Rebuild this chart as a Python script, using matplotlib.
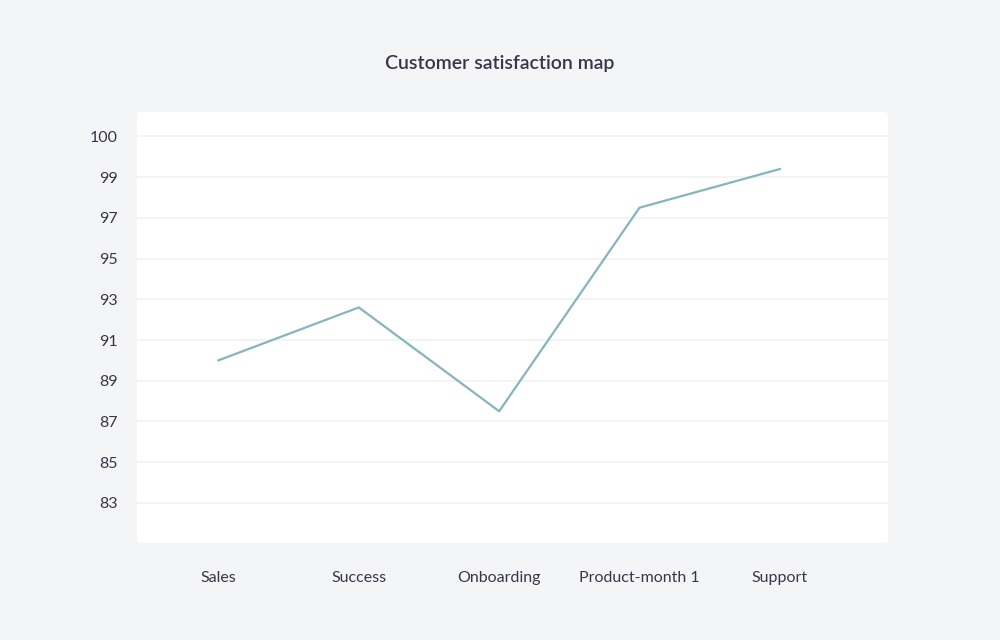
"""Customer satisfaction line chart."""

import matplotlib
matplotlib.use("Agg")
import matplotlib.pyplot as plt
from matplotlib.patches import FancyBboxPatch

categories = ["Sales", "Success", "Onboarding", "Product-month 1", "Support"]
satisfaction = [90.0, 92.6, 87.5, 97.5, 99.4]
tick_values = [83, 85, 87, 89, 91, 93, 95, 97, 99, 101]
tick_labels = ["83", "85", "87", "89", "91", "93", "95", "97", "99", "100"]

BG = "#f4f5f7"
TEXT = "#3b3549"
LINE = "#85b5be"
GRID = "#f1f2f5"

plt.rcParams["font.family"] = ["Lato", "DejaVu Sans"]

figure = plt.figure(figsize=(10, 6.4), dpi=100, facecolor=BG)
axis = figure.add_axes([0.137, 0.1516, 0.751, 0.6734])
axis.patch.set_visible(False)

panel = FancyBboxPatch(
    (0, 0), 1, 1, boxstyle="round,pad=0,rounding_size=0.006",
    transform=axis.transAxes, facecolor="white", edgecolor="none", zorder=0,
)
axis.add_patch(panel)

x_pos = list(range(len(categories)))
axis.plot(x_pos, satisfaction, color=LINE, linewidth=1.6, zorder=3)

axis.set_xlim(-0.58, 4.77)
axis.set_ylim(81.03, 102.2)
axis.set_xticks(x_pos, categories)
axis.set_yticks(tick_values, tick_labels)
axis.grid(axis="y", color=GRID, linewidth=1.2, zorder=1)
axis.set_axisbelow(True)
for spine in axis.spines.values():
    spine.set_visible(False)
axis.tick_params(axis="both", length=0, colors=TEXT, labelsize=11.5)
axis.tick_params(axis="x", pad=20)
axis.tick_params(axis="y", pad=14)

figure.text(0.5, 0.9, "Customer satisfaction map", ha="center", va="center",
            fontsize=14, color=TEXT, fontweight="semibold")

figure.savefig("out.png", dpi=100, facecolor=BG)
